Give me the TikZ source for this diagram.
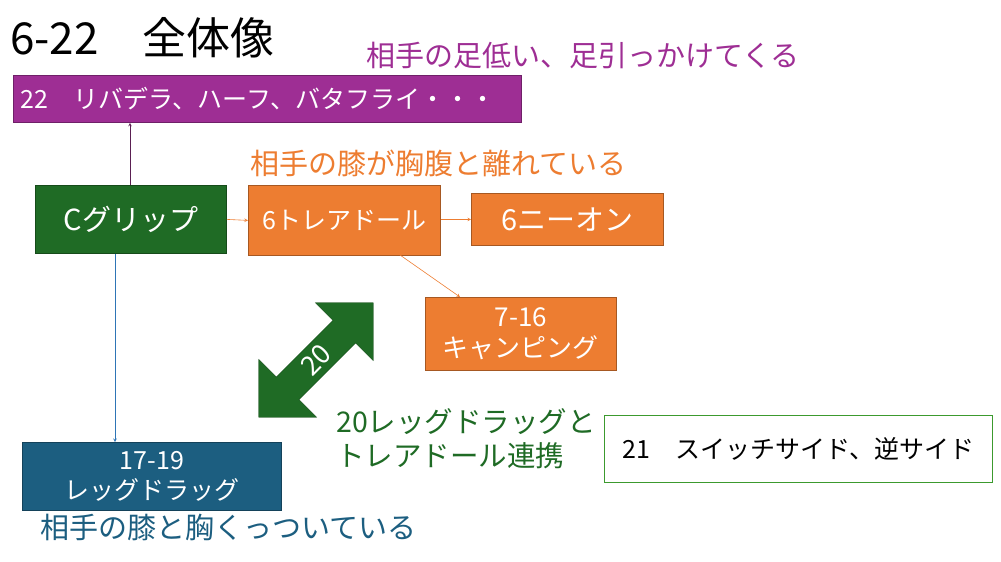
\documentclass[tikz,border=0pt]{standalone}
\usepackage{fontspec}
\setmainfont{Noto Sans CJK JP}
\usetikzlibrary{shapes.arrows}
\definecolor{pur}{HTML}{9E2E94}
\definecolor{purd}{HTML}{5A1F52}
\definecolor{gr}{HTML}{1F6B25}
\definecolor{grl}{HTML}{3C9A2E}
\definecolor{ora}{HTML}{ED7D31}
\definecolor{blu}{HTML}{1C5E80}
\definecolor{blul}{HTML}{2E75B6}
\begin{document}
\begin{tikzpicture}[x=1pt,y=-1pt,
 box/.style={draw=#1!70!black,fill=#1,text=white,font=\fontsize{26}{31}\selectfont,align=center,inner sep=0pt,line width=0.8pt},
 lab/.style={anchor=west,inner sep=0pt,font=\fontsize{29}{33}\selectfont},
 arr/.style={->,>=stealth,line width=0.6pt}]
\useasboundingbox (0,0) rectangle (1001,562);
\node[anchor=west,inner sep=0pt,font=\fontsize{44}{48}\selectfont] (title) at (10,38) {6-22　全体像};
\node[lab,text=pur] (l1) at (366,55) {相手の足低い、足引っかけてくる};
\node[box=pur,minimum width=508,minimum height=47,anchor=north west,text width=494,align=left,font=\fontsize{25}{29}\selectfont] (p) at (13,75) {22　リバデラ、ハーフ、バタフライ・・・};
\node[box=gr,minimum width=191,minimum height=68,anchor=north west,font=\fontsize{29}{33}\selectfont] (c) at (35,185) {Cグリップ};
\node[lab,text=ora] (l2) at (250,163) {相手の膝が胸腹と離れている};
\node[box=ora,minimum width=192,minimum height=70,anchor=north west,font=\fontsize{25}{29}\selectfont] (t) at (248,185) {6トレアドール};
\node[box=ora,minimum width=192,minimum height=52,anchor=north west,font=\fontsize{29}{33}\selectfont] (n) at (471,193) {6ニーオン};
\node[box=ora,minimum width=191,minimum height=73,anchor=north west] (k) at (425,297) {7-16\\キャンピング};
\node[box=blu,minimum width=259,minimum height=68,anchor=north west,font=\fontsize{25}{30}\selectfont] (b) at (22,442) {17-19\\レッグドラッグ};
\node[lab,text=blu] (l3) at (40,527) {相手の膝と胸くっついている};
\node[draw=grl,fill=white,minimum width=388,minimum height=67,anchor=north west,inner sep=0pt,line width=0.8pt,font=\fontsize{25}{29}\selectfont] (s) at (604,415) {21　スイッチサイド、逆サイド};
\node[lab,text=gr,align=left,font=\fontsize{28.5}{34}\selectfont] (l4) at (336,439) {20レッグドラッグと\\トレアドール連携};
\node[double arrow,fill=gr,draw=gr!70!black,minimum width=82,minimum height=162,double arrow head extend=16,inner sep=0pt,rotate=45,text=white,font=\fontsize{27}{30}\selectfont] (d) at (316,360) {20};
\draw[arr,purd] (c.north -| 130,0) -- (p.south -| 130,0);
\draw[arr,ora] (c.east) -- (t.west);
\draw[arr,ora] (t.east |- n.west) -- (n.west);
\draw[arr,ora] (400,255) -- (k.north -| 460,0);
\draw[arr,blul] (c.south -| 115,0) -- (b.north -| 115,0);
\end{tikzpicture}
\end{document}
